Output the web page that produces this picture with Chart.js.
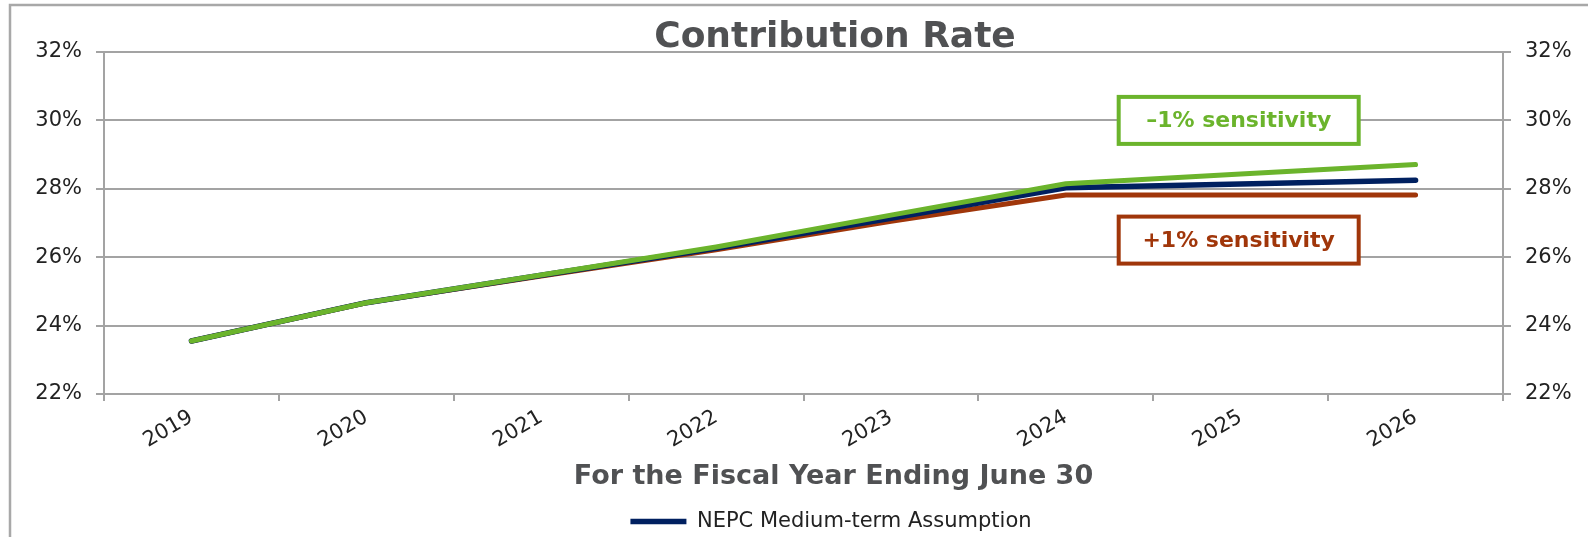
<!DOCTYPE html>
<html>
<head>
<meta charset="utf-8">
<script src="https://cdn.jsdelivr.net/npm/chart.js@4"></script>
<style>
  html, body { margin: 0; padding: 0; background: #fff; }
  #wrap { width: 1588px; height: 537px; position: relative; }
</style>
</head>
<body>
<div id="wrap"><canvas id="chart"></canvas></div>
<script>
// Data
const years = ['2019', '2020', '2021', '2022', '2023', '2024', '2025', '2026'];
const nepc = [23.55, 24.67, 25.47, 26.26, 27.14, 28.03, 28.14, 28.25];
const minusOne = [23.55, 24.67, 25.48, 26.30, 27.23, 28.15, 28.43, 28.71];
const plusOne = [23.55, 24.67, 25.45, 26.22, 27.05, 27.82, 27.82, 27.82];
const yTicks = [22, 24, 26, 28, 30, 32];

// Colours
const GREEN = '#6bb42c';
const NAVY = '#002060';
const RUST = '#a0360a';
const GRID = '#a3a3a3';
const TITLE_GREY = '#505153';

Chart.defaults.font.family = "'DejaVu Sans', Verdana, sans-serif";
Chart.defaults.color = '#222';

// The title and legend sit a little right of the canvas centre in the original
const shiftBoxes = {
  id: 'shiftBoxes',
  afterLayout(chart) {
    const t = chart.titleBlock;
    if (t) { t.left += 41; t.right += 41; }
    const l = chart.legend;
    if (l) { l.left += 37; l.right += 37; }
  }
};

// Frame, axis title and the two sensitivity call-outs
const decor = {
  id: 'decor',
  beforeDraw(chart) {
    const ctx = chart.ctx;
    ctx.save();
    ctx.strokeStyle = '#a8a8a8';
    ctx.lineWidth = 2.5;
    ctx.beginPath();
    ctx.moveTo(10, chart.height + 5);
    ctx.lineTo(10, 5);
    ctx.lineTo(chart.width + 5, 5);
    ctx.stroke();
    ctx.restore();
  },
  afterDraw(chart) {
    const ctx = chart.ctx;
    const x = chart.scales.x;
    const y = chart.scales.y;
    const area = chart.chartArea;

    // x axis title
    ctx.save();
    ctx.font = "bold 27px 'DejaVu Sans'";
    ctx.fillStyle = TITLE_GREY;
    ctx.textAlign = 'center';
    ctx.textBaseline = 'middle';
    ctx.fillText('For the Fiscal Year Ending June 30', (area.left + area.right) / 2 + 30, 477);
    ctx.restore();

    // call-out boxes
    const boxes = [
      { text: '\u20131% sensitivity', color: GREEN, value: 30 },
      { text: '+1% sensitivity', color: RUST, value: 26.5 }
    ];
    boxes.forEach(b => {
      const cx = x.getPixelForValue(6) - 2;
      const cy = y.getPixelForValue(b.value);
      const w = 240, h = 47;
      ctx.save();
      ctx.fillStyle = '#fff';
      ctx.fillRect(cx - w / 2, cy - h / 2, w, h);
      ctx.strokeStyle = b.color;
      ctx.lineWidth = 4;
      ctx.strokeRect(cx - w / 2, cy - h / 2, w, h);
      ctx.font = "bold 22px 'DejaVu Sans'";
      ctx.fillStyle = b.color;
      ctx.textAlign = 'center';
      ctx.textBaseline = 'middle';
      ctx.fillText(b.text, cx, cy + 1);
      ctx.restore();
    });
  }
};

const lineStyle = {
  borderWidth: 5,
  pointRadius: 0,
  pointHoverRadius: 0,
  tension: 0,
  fill: false,
  borderCapStyle: 'round',
  borderJoinStyle: 'round'
};

new Chart(document.getElementById('chart'), {
  type: 'line',
  data: {
    labels: years,
    datasets: [
      { label: '\u20131% sensitivity', data: minusOne, borderColor: GREEN, backgroundColor: GREEN, ...lineStyle },
      { label: 'NEPC Medium-term Assumption', data: nepc, borderColor: NAVY, backgroundColor: NAVY, ...lineStyle, borderWidth: 5.5 },
      { label: '+1% sensitivity', data: plusOne, borderColor: RUST, backgroundColor: RUST, ...lineStyle }
    ]
  },
  options: {
    responsive: true,
    maintainAspectRatio: false,
    animation: false,
    layout: { padding: { left: 0, right: 0, top: 0, bottom: -5 } },
    plugins: {
      title: {
        display: true,
        text: 'Contribution Rate',
        color: TITLE_GREY,
        font: { size: 36, weight: 'bold', lineHeight: 0.8 },
        padding: { top: 23, bottom: 0.2 }
      },
      legend: {
        position: 'bottom',
        labels: {
          filter: item => item.text === 'NEPC Medium-term Assumption',
          usePointStyle: true,
          pointStyle: 'line',
          pointStyleWidth: 56,
          font: { size: 21 },
          color: '#222',
          padding: 6
        }
      },
      tooltip: { enabled: false }
    },
    scales: {
      x: {
        offset: true,
        grid: {
          offset: true,
          drawOnChartArea: false,
          drawTicks: true,
          tickLength: 7,
          color: GRID,
          lineWidth: 2
        },
        border: { color: GRID, width: 2 },
        ticks: {
          minRotation: 30,
          maxRotation: 30,
          font: { size: 21 },
          padding: 4
        },
        afterFit: s => { s.height = 111; }
      },
      y: {
        position: 'left',
        min: 22,
        max: 32,
        afterBuildTicks: s => { s.ticks = yTicks.map(v => ({ value: v })); },
        grid: { color: GRID, lineWidth: 2, tickLength: 8 },
        border: { color: GRID, width: 2 },
        ticks: { font: { size: 21 }, padding: 14, callback: v => v + '%' },
        afterFit: s => { s.width = 104; }
      },
      y2: {
        position: 'right',
        min: 22,
        max: 32,
        afterBuildTicks: s => { s.ticks = yTicks.map(v => ({ value: v })); },
        grid: { drawOnChartArea: false, color: GRID, lineWidth: 2, tickLength: 8 },
        border: { color: GRID, width: 2 },
        ticks: { font: { size: 21 }, padding: 14, callback: v => v + '%' },
        afterFit: s => { s.width = 85; }
      }
    }
  },
  plugins: [shiftBoxes, decor]
});
</script>
</body>
</html>
